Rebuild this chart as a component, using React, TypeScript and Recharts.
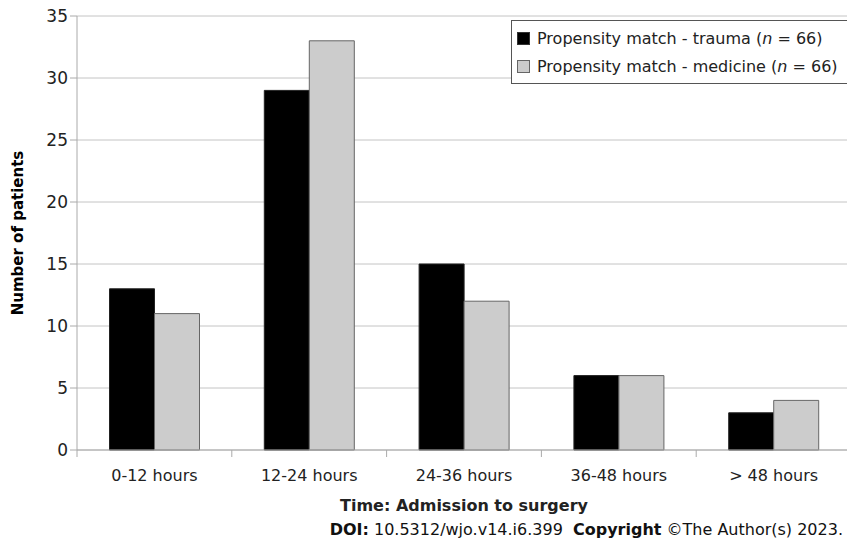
import { BarChart, Bar, XAxis, YAxis, CartesianGrid } from "recharts";

const categories = ["0-12 hours", "12-24 hours", "24-36 hours", "36-48 hours", "> 48 hours"];
const traumaCounts = [13, 29, 15, 6, 3];
const medicineCounts = [11, 33, 12, 6, 4];
const yTicks = [0, 5, 10, 15, 20, 25, 30, 35];

const FONT = "'DejaVu Sans', Verdana, sans-serif";
const CHART_W = 851;
const CHART_H = 550;
const Y_AXIS_W = 77;
const HALF_BAND = (CHART_W - Y_AXIS_W) / categories.length / 2;

const data = categories.map((c, i) => ({
  time: c,
  trauma: traumaCounts[i],
  medicine: medicineCounts[i],
}));

// category ticks sit between groups, label stays centred
function TimeTick(props: any) {
  const { x, y, payload, index } = props;
  return (
    <g>
      <line x1={x - HALF_BAND} x2={x - HALF_BAND} y1={y - 8} y2={y - 1} stroke="#aaa" />
      {index === categories.length - 1 && (
        <line x1={x + HALF_BAND} x2={x + HALF_BAND} y1={y - 8} y2={y - 1} stroke="#aaa" />
      )}
      <text x={x} y={y + 23} textAnchor="middle" fontSize={16} fill="#222" fontFamily={FONT}>
        {payload.value}
      </text>
    </g>
  );
}

function LegendBox() {
  const items = [
    { label: "trauma", fill: "#000", stroke: "#333" },
    { label: "medicine", fill: "#cccccc", stroke: "#666" },
  ];
  return (
    <div
      style={{
        position: "absolute",
        left: 511,
        top: 20,
        width: 345,
        border: "1px solid #555",
        background: "#fff",
        padding: "3px 0 3px 5px",
        fontFamily: FONT,
        fontSize: 16,
        color: "#222",
      }}
    >
      {items.map((it) => (
        <div key={it.label} style={{ display: "flex", alignItems: "center", height: 28, whiteSpace: "nowrap" }}>
          <span
            style={{
              width: 11,
              height: 11,
              background: it.fill,
              border: `1px solid ${it.stroke}`,
              marginRight: 7,
            }}
          />
          <span>
            Propensity match - {it.label} (<i>n</i> = 66)
          </span>
        </div>
      ))}
    </div>
  );
}

export default function App() {
  return (
    <div style={{ position: "absolute", left: 0, top: 0, width: 847, height: 550, overflow: "hidden", background: "#fff" }}>
      <BarChart
        width={CHART_W}
        height={CHART_H}
        data={data}
        margin={{ top: 16, right: 0, left: 0, bottom: 70 }}
        barCategoryGap="21%"
        barGap={0}
      >
        <CartesianGrid vertical={false} stroke="#c4c4c4" />
        <XAxis
          dataKey="time"
          height={30}
          axisLine={{ stroke: "#aaa" }}
          tickLine={false}
          tick={<TimeTick />}
          interval={0}
        />
        <YAxis
          width={Y_AXIS_W}
          domain={[0, 35]}
          ticks={yTicks}
          axisLine={{ stroke: "#aaa" }}
          tickLine={{ stroke: "#aaa" }}
          tickSize={7}
          tick={{ fontSize: 17, fill: "#222", fontFamily: FONT }}
          label={{
            value: "Number of patients",
            angle: -90,
            position: "insideLeft",
            offset: 18,
            style: { fontSize: 15, fontWeight: "bold", fill: "#000", fontFamily: FONT, textAnchor: "middle" },
          }}
        />
        <Bar dataKey="trauma" fill="#000" stroke="#222" isAnimationActive={false} />
        <Bar dataKey="medicine" fill="#cccccc" stroke="#666" isAnimationActive={false} />
      </BarChart>
      <LegendBox />
      <div
        style={{
          position: "absolute",
          top: 496,
          left: Y_AXIS_W,
          width: CHART_W - Y_AXIS_W,
          textAlign: "center",
          fontFamily: FONT,
          fontSize: 16,
          fontWeight: "bold",
          color: "#222",
        }}
      >
        Time: Admission to surgery
      </div>
      <div
        style={{
          position: "absolute",
          top: 520,
          right: 4,
          fontFamily: FONT,
          fontSize: 16,
          color: "#111",
          whiteSpace: "nowrap",
        }}
      >
        <b>DOI:</b> 10.5312/wjo.v14.i6.399&nbsp; <b>Copyright</b> ©The Author(s) 2023.
      </div>
    </div>
  );
}
